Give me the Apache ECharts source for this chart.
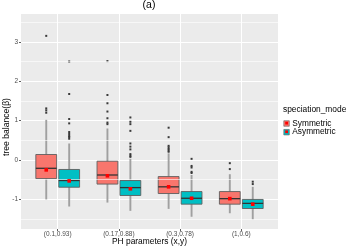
<!DOCTYPE html>
<html><head><meta charset="utf-8">
<script src="https://cdn.jsdelivr.net/npm/echarts@6/dist/echarts.min.js"></script>
<style>html,body{margin:0;padding:0;background:#fff}#c{width:351px;height:248px}</style>
</head><body><div id="c"></div>
<script>
const categories = ['(0.1,0.93)', '(0.17,0.88)', '(0.3,0.78)', '(1,0.6)'];
const modes = ['Symmetric', 'Asymmetric'];
const yTicks = [-1, 0, 1, 2, 3];
const yMinor = [-1.5, -0.5, 0.5, 1.5, 2.5, 3.5];
// [whisker low, Q1, median, Q3, whisker high]
const symBox = [[-1.00, -0.47, -0.21, 0.14, 1.02], [-1.08, -0.61, -0.38, -0.03, 0.80], [-1.24, -0.85, -0.68, -0.42, 0.17], [-1.35, -1.12, -0.98, -0.80, -0.36]];
const asymBox = [[-1.18, -0.69, -0.52, -0.24, 0.42], [-1.29, -0.90, -0.70, -0.52, 0.03], [-1.44, -1.12, -0.97, -0.80, -0.38], [-1.51, -1.23, -1.10, -1.00, -0.68]];
const symMean = [-0.25, -0.40, -0.68, -0.98];
const asymMean = [-0.53, -0.73, -0.97, -1.12];
const symOutliers = [[3.15, 1.31, 1.26, 1.20], [2.51, 1.65, 1.44, 1.23, 1.06, 0.95, 0.91], [0.82, 0.58, 0.36, 0.32, 0.28, 0.24, 0.21], [-0.08, -0.23]];
const asymOutliers = [[2.50, 1.675, 1.04, 0.93, 0.71, 0.66, 0.61, 0.58, 0.54], [1.08, 0.97, 0.91, 0.74, 0.42, 0.34, 0.27, 0.15, 0.11, 0.08], [0.03, -0.15, -0.19, -0.30, -0.33], [-0.55, -0.61]];

const colors = ['#F8766D', '#00BFC4'];
const FONT = 'Liberation Sans, Arial, sans-serif';
// discrete axis expanded by 0.6 on each side, built as 0.2-wide slots
const SLOTS = 22;
const slotOf = i => 3 + 5 * i;
const slotData = [];
for (let k = 0; k < SLOTS; k++) slotData.push('');
categories.forEach((c, i) => { slotData[slotOf(i)] = c; });
const isCat = idx => idx % 5 === 3;

const boxSets = [symBox, asymBox];
const meanSets = [symMean, asymMean];
const outSets = [symOutliers, asymOutliers];

function geom(api, slot, sign) {
  const p0 = api.coord([slot, 0]);
  const pm = api.coord([slot - 1, 0]);
  const unit = (p0[0] - pm[0]) * 5;
  return { cx: p0[0] + sign * 0.1875 * unit, w: 0.34 * unit };
}

const series = [];
// minor gridlines
series.push({
  type: 'line', data: [], z: 1, silent: true,
  markLine: {
    silent: true, symbol: ['none', 'none'], label: { show: false },
    lineStyle: { color: '#ffffff', width: 0.6, type: 'solid' },
    data: yMinor.map(v => ({ yAxis: v }))
  }
});
modes.forEach((m, s) => {
  const sign = s === 0 ? -1 : 1;
  series.push({
    name: m, type: 'custom', z: 3,
    itemStyle: { color: colors[s], borderColor: '#666', borderWidth: 0.6 },
    encode: { x: 0, y: [1, 2, 3, 4, 5] },
    data: boxSets[s].map((b, i) => [slotOf(i), b[0], b[1], b[2], b[3], b[4]]),
    renderItem: function (params, api) {
      const slot = api.value(0);
      const g = geom(api, slot, sign);
      const yl = api.coord([slot, api.value(1)])[1];
      const y1 = api.coord([slot, api.value(2)])[1];
      const ym = api.coord([slot, api.value(3)])[1];
      const y3 = api.coord([slot, api.value(4)])[1];
      const yh = api.coord([slot, api.value(5)])[1];
      return {
        type: 'group', children: [
          { type: 'line', shape: { x1: g.cx, y1: yh, x2: g.cx, y2: yl }, style: { stroke: '#a0a0a0', lineWidth: 1.9 } },
          { type: 'rect', shape: { x: g.cx - g.w / 2, y: y3, width: g.w, height: y1 - y3 }, style: { fill: colors[s], stroke: '#5f5f5f', lineWidth: 0.9 } },
          { type: 'line', shape: { x1: g.cx - g.w / 2, y1: ym, x2: g.cx + g.w / 2, y2: ym }, style: { stroke: '#333333', lineWidth: 1.3 } }
        ]
      };
    }
  });
  const outData = [];
  outSets[s].forEach((arr, i) => arr.forEach(v => outData.push([slotOf(i), v])));
  series.push({
    type: 'custom', z: 4, silent: true,
    data: outData,
    renderItem: function (params, api) {
      const slot = api.value(0);
      const g = geom(api, slot, sign);
      const y = api.coord([slot, api.value(1)])[1];
      return { type: 'rect', shape: { x: g.cx - 1, y: y - 1, width: 2, height: 2 }, style: { fill: '#3a3a3a' } };
    }
  });
  series.push({
    type: 'custom', z: 5, silent: true,
    data: meanSets[s].map((v, i) => [slotOf(i), v]),
    renderItem: function (params, api) {
      const slot = api.value(0);
      const g = geom(api, slot, sign);
      const y = api.coord([slot, api.value(1)])[1];
      return { type: 'rect', shape: { x: g.cx - 1.8, y: y - 1.8, width: 3.6, height: 3.6 }, style: { fill: '#ff0000' } };
    }
  });
});

const chart = echarts.init(document.getElementById('c'), null, { renderer: 'canvas' });
chart.setOption({
  animation: false,
  backgroundColor: '#ffffff',
  textStyle: { fontFamily: FONT },
  title: {
    text: '(a)', left: 149, top: 0, textAlign: 'center', padding: 0,
    textStyle: { fontSize: 10.5, fontWeight: 'normal', color: '#000', fontFamily: FONT }
  },
  grid: {
    left: 21, top: 13, width: 257, height: 216, show: true, backgroundColor: '#EBEBEB', borderWidth: 0,
    containLabel: false, outerBoundsMode: 'none'
  },
  xAxis: {
    type: 'category', data: slotData, boundaryGap: false,
    name: 'PH parameters (x,y)', nameLocation: 'middle', nameGap: 8.5, nameMoveOverlap: false,
    nameTextStyle: { fontSize: 8.4, color: '#000', fontFamily: FONT, verticalAlign: 'top', padding: 0 },
    axisLine: { show: false, onZero: false },
    axisTick: { show: true, interval: isCat, length: 2, lineStyle: { color: '#333', width: 0.8 } },
    axisLabel: { interval: isCat, fontSize: 6.5, color: '#4D4D4D', margin: 2, fontFamily: FONT },
    splitLine: { show: true, interval: isCat, lineStyle: { color: '#ffffff', width: 1.1 } }
  },
  yAxis: {
    type: 'value', min: -1.75, max: 3.73, splitNumber: 5,
    name: 'tree balance(β)', nameLocation: 'middle', nameGap: 10, nameMoveOverlap: false,
    nameTextStyle: { fontSize: 8.6, color: '#000', fontFamily: FONT, padding: [0, 12, 0, 0] },
    axisLine: { show: false, onZero: false },
    axisTick: { show: true, length: 2, lineStyle: { color: '#333', width: 0.8 } },
    axisLabel: {
      fontSize: 6.5, color: '#4D4D4D', margin: 3, showMinLabel: false, showMaxLabel: false, fontFamily: FONT,
      formatter: v => (yTicks.indexOf(v) >= 0 ? String(v) : '')
    },
    splitLine: { show: true, lineStyle: { color: '#ffffff', width: 1.1 } }
  },
  legend: {
    data: modes, orient: 'vertical', left: 283.5, top: 119.5, padding: 0,
    itemWidth: 5.5, itemHeight: 5.5, itemGap: 0.7, icon: 'rect',
    textStyle: { fontSize: 8.3, lineHeight: 8, color: '#000', padding: [0, 0, 0, -2], fontFamily: FONT },
    itemStyle: { borderColor: '#5f5f5f', borderWidth: 0.6 }
  },
  graphic: [
    { type: 'text', left: 283, top: 106, style: { text: 'speciation_mode', font: '8.4px ' + FONT, fill: '#000' } },
    { type: 'rect', left: 285.2, top: 121.7, z: 100, shape: { width: 2.8, height: 2.8 }, style: { fill: '#ff0000' } },
    { type: 'rect', left: 285.2, top: 130.4, z: 100, shape: { width: 2.8, height: 2.8 }, style: { fill: '#ff0000' } }
  ],
  series: series
});
</script></body></html>
